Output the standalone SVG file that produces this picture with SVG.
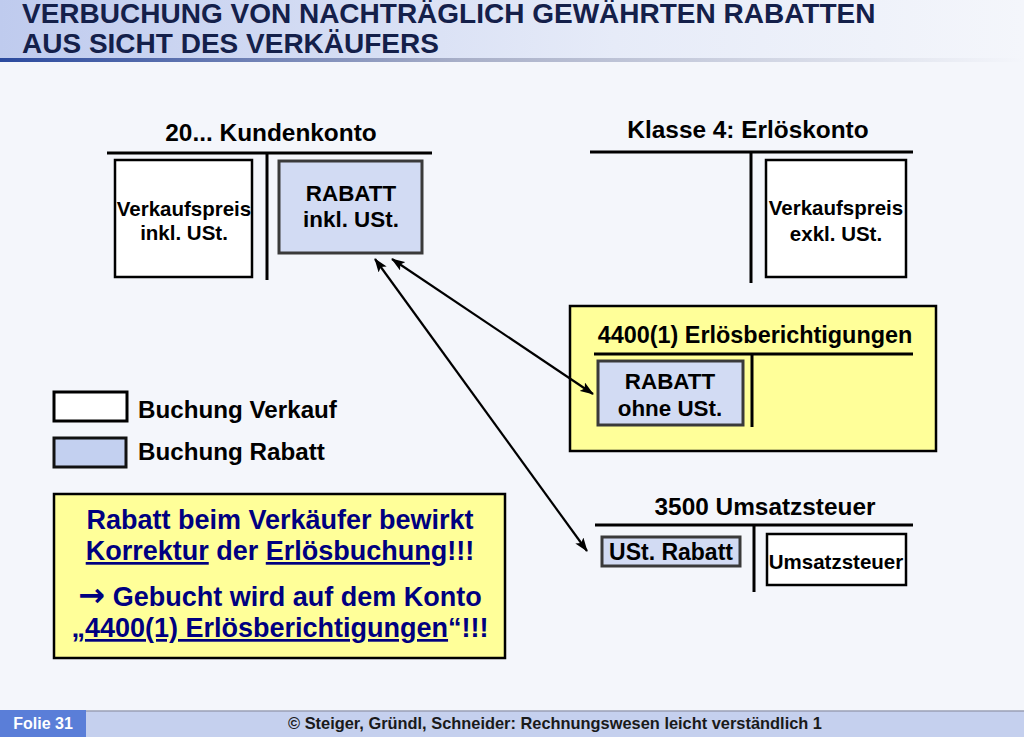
<svg xmlns="http://www.w3.org/2000/svg" width="1024" height="737" viewBox="0 0 1024 737">
<defs>
<linearGradient id="hdr" x1="0" y1="0" x2="1" y2="0">
<stop offset="0" stop-color="#BFCBEE"/>
<stop offset="0.6" stop-color="#E6EBF8"/>
<stop offset="1" stop-color="#F4F6FB"/>
</linearGradient>
<linearGradient id="hline" x1="0" y1="0" x2="1" y2="0">
<stop offset="0" stop-color="#2B4A9E"/>
<stop offset="0.45" stop-color="#A8AFC8"/>
<stop offset="1" stop-color="#F4F6FB"/>
</linearGradient>
<marker id="ah" viewBox="0 0 14 10" refX="13" refY="5" markerWidth="14" markerHeight="10" markerUnits="userSpaceOnUse" orient="auto-start-reverse">
<path d="M0,0 L14,5 L0,10 L3,5 Z" fill="#000"/>
</marker>
</defs>
<style>
.t{font-family:"Liberation Sans",Arial,sans-serif;font-weight:bold;fill:#000;}
.ttl{font-size:24.4px;text-anchor:middle;}
.box{fill:#fff;stroke:#000;stroke-width:2.5;}
.rab{fill:#D2DBF3;stroke:#3A3A3A;stroke-width:3;}
.ln{stroke:#000;stroke-width:3;fill:none;}
.note{fill:#FFFF99;stroke:#000;stroke-width:2.5;}
.nt{font-family:"Liberation Sans",Arial,sans-serif;font-weight:bold;fill:#000080;font-size:27px;text-anchor:middle;}
.u{text-decoration:underline;}
.conn{stroke:#000;stroke-width:2.2;fill:none;marker-start:url(#ah);marker-end:url(#ah);}
</style>
<rect width="1024" height="737" fill="#F4F6FB"/>
<rect x="0" y="0" width="1024" height="58" fill="url(#hdr)"/>
<rect x="0" y="58" width="1024" height="4" fill="url(#hline)"/>
<text class="t" x="22" y="23" font-size="28" style="fill:#14204A">VERBUCHUNG VON NACHTRÄGLICH GEWÄHRTEN RABATTEN</text>
<text class="t" x="22" y="53" font-size="28" style="fill:#14204A">AUS SICHT DES VERKÄUFERS</text>

<g id="kundenkonto">
<text class="t ttl" x="271" y="141">20... Kundenkonto</text>
<line class="ln" x1="107" y1="153" x2="432" y2="153"/>
<line class="ln" x1="267" y1="153" x2="267" y2="280"/>
<rect class="box" x="115" y="160" width="137" height="117"/>
<text class="t" x="184" y="216" font-size="20.5" text-anchor="middle">Verkaufspreis</text>
<text class="t" x="184" y="240" font-size="20.5" text-anchor="middle">inkl. USt.</text>
<rect class="rab" x="279" y="161" width="143" height="92"/>
<text class="t" x="351" y="201" font-size="22.4" text-anchor="middle">RABATT</text>
<text class="t" x="351" y="227" font-size="22.4" text-anchor="middle">inkl. USt.</text>
</g>

<g id="erloeskonto">
<text class="t ttl" x="748" y="138">Klasse 4: Erlöskonto</text>
<line class="ln" x1="590" y1="152" x2="913" y2="152"/>
<line class="ln" x1="751" y1="152" x2="751" y2="283"/>
<rect class="box" x="766" y="160" width="140" height="117"/>
<text class="t" x="836" y="215" font-size="20.5" text-anchor="middle">Verkaufspreis</text>
<text class="t" x="836" y="241" font-size="20.5" text-anchor="middle">exkl. USt.</text>
</g>

<g id="erloesberichtigungen">
<rect class="note" x="570" y="306" width="366" height="145"/>
<text class="t" x="755" y="343" font-size="23.4" text-anchor="middle">4400(1) Erlösberichtigungen</text>
<line class="ln" x1="594" y1="354" x2="913" y2="354"/>
<line class="ln" x1="752" y1="354" x2="752" y2="427"/>
<rect class="rab" x="598" y="361" width="145" height="64"/>
<text class="t" x="670" y="389" font-size="22.4" text-anchor="middle">RABATT</text>
<text class="t" x="670" y="416" font-size="22.4" text-anchor="middle">ohne USt.</text>
</g>

<g id="umsatzsteuer">
<text class="t ttl" x="765" y="515">3500 Umsatzsteuer</text>
<line class="ln" x1="595" y1="525" x2="913" y2="525"/>
<line class="ln" x1="754" y1="525" x2="754" y2="592"/>
<rect class="rab" x="602" y="537" width="138" height="29"/>
<text class="t" x="671" y="560" font-size="23" text-anchor="middle">USt. Rabatt</text>
<rect class="box" x="767" y="534" width="139" height="51"/>
<text class="t" x="836" y="569" font-size="20.5" text-anchor="middle">Umsatzsteuer</text>
</g>

<g id="legende">
<rect class="box" x="54" y="392" width="73" height="29" style="stroke-width:3"/>
<text class="t" x="138" y="418" font-size="24.2">Buchung Verkauf</text>
<rect x="54" y="438" width="72" height="29" fill="#C3D0F0" stroke="#111" stroke-width="3"/>
<text class="t" x="138" y="460" font-size="24.2">Buchung Rabatt</text>
</g>

<g id="hinweis">
<rect class="note" x="54" y="494" width="451" height="164"/>
<text class="nt" x="280" y="529">Rabatt beim Verkäufer bewirkt</text>
<text class="nt" x="280" y="560"><tspan class="u">Korrektur</tspan> der <tspan class="u">Erlösbuchung</tspan>!!!</text>
<text class="nt" x="280" y="606"><tspan font-family="DejaVu Sans, sans-serif" font-size="32">→</tspan> Gebucht wird auf dem Konto</text>
<text class="nt" x="280" y="637">„<tspan class="u">4400(1) Erlösberichtigungen</tspan>“!!!</text>
</g>

<g id="connectors">
<line class="conn" x1="392" y1="259" x2="593" y2="394"/>
<line class="conn" x1="375" y1="259" x2="587" y2="551"/>
</g>

<g id="footer">
<rect x="0" y="711" width="1024" height="26" fill="#C5D0EE"/>
<line x1="86" y1="711" x2="1024" y2="711" stroke="#9A9FB5" stroke-width="1.5"/>
<rect x="0" y="710" width="86" height="27" fill="#5A7ED8"/>
<text x="43" y="729" font-family="Liberation Sans, Arial, sans-serif" font-weight="bold" font-size="16" fill="#fff" text-anchor="middle">Folie 31</text>
<text x="555" y="729" font-family="Liberation Sans, Arial, sans-serif" font-weight="bold" font-size="16.4" fill="#1A1A1A" text-anchor="middle">© Steiger, Gründl, Schneider: Rechnungswesen leicht verständlich 1</text>
</g>
</svg>
